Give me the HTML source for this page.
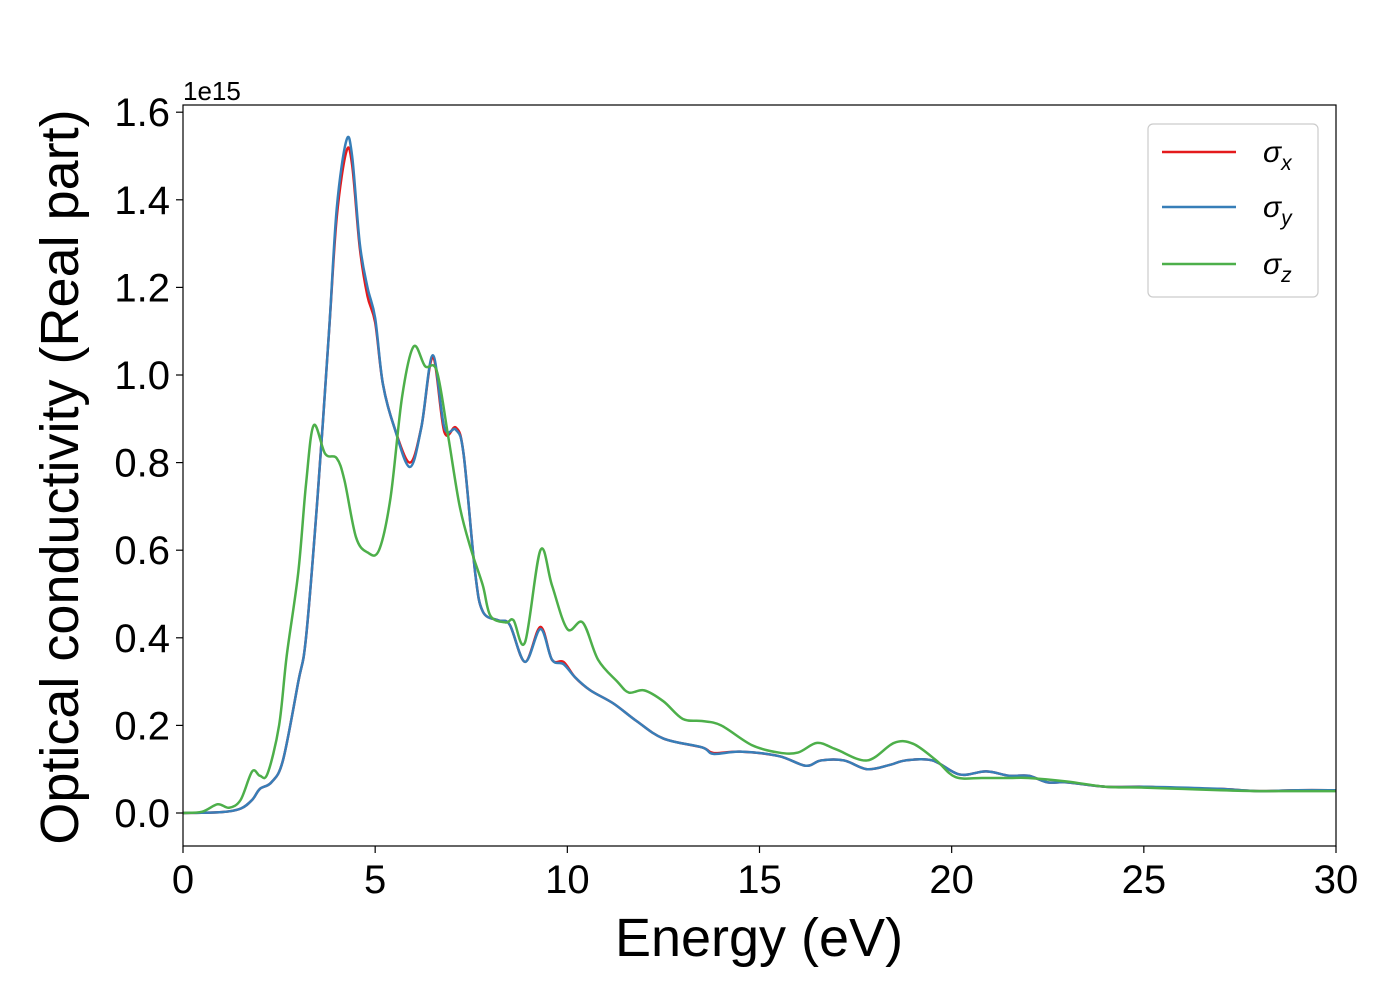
<!DOCTYPE html>
<html><head><meta charset="utf-8"><style>body{margin:0;background:#fff}svg{display:block;font-family:"Liberation Sans",sans-serif}</style></head>
<body>
<svg id="chart" xmlns="http://www.w3.org/2000/svg" width="1400" height="1000">
<g id="plot"></g>
<text x="183" y="100" font-size="26">1e15</text>
<text x="759" y="956" font-size="54" text-anchor="middle">Energy (eV)</text>
<text transform="translate(78,477) rotate(-90)" font-size="54" text-anchor="middle">Optical conductivity (Real part)</text>
<g>
<rect x="1148" y="124" width="170" height="173" rx="5" fill="#fff" stroke="#ccc" stroke-width="1.2"/>
<line x1="1162" x2="1236" y1="152" y2="152" stroke="#e41a1c" stroke-width="2.5"/>
<line x1="1162" x2="1236" y1="207" y2="207" stroke="#377eb8" stroke-width="2.5"/>
<line x1="1162" x2="1236" y1="264" y2="264" stroke="#4daf4a" stroke-width="2.5"/>
<text x="1263" y="162" font-size="30" font-style="italic">σ<tspan font-size="21" dy="8">x</tspan></text>
<text x="1263" y="217" font-size="30" font-style="italic">σ<tspan font-size="21" dy="8">y</tspan></text>
<text x="1263" y="274" font-size="30" font-style="italic">σ<tspan font-size="21" dy="8">z</tspan></text>
</g>
</svg>
<script>
const energyBlue=[0,1,1.5,1.8,2.0,2.3,2.6,3.0,3.2,3.5,3.8,4.0,4.25,4.4,4.6,4.8,5.0,5.2,5.5,5.9,6.2,6.5,6.8,7.1,7.3,7.6,7.8,8.2,8.5,8.9,9.3,9.6,9.9,10.2,10.6,11.2,11.8,12.5,13.5,13.8,14.5,15.5,16.2,16.6,17.2,17.8,18.4,18.8,19.5,20.2,20.9,21.5,22,22.5,23,24,25,26,27,28,29,30];
const sigmaY=[0,0.002,0.01,0.03,0.055,0.07,0.12,0.3,0.4,0.72,1.1,1.38,1.535,1.5,1.3,1.2,1.13,0.98,0.88,0.79,0.88,1.045,0.88,0.875,0.82,0.55,0.46,0.44,0.43,0.345,0.42,0.35,0.34,0.31,0.28,0.25,0.21,0.17,0.15,0.135,0.14,0.13,0.108,0.12,0.12,0.10,0.11,0.12,0.12,0.088,0.095,0.085,0.085,0.07,0.07,0.06,0.06,0.058,0.055,0.05,0.052,0.052];
const sigmaX=[0,0.002,0.01,0.03,0.055,0.07,0.12,0.3,0.4,0.72,1.1,1.36,1.51,1.48,1.29,1.18,1.12,0.98,0.88,0.80,0.88,1.04,0.87,0.88,0.82,0.55,0.46,0.44,0.43,0.345,0.425,0.35,0.345,0.31,0.28,0.25,0.21,0.17,0.15,0.137,0.14,0.13,0.108,0.12,0.12,0.10,0.11,0.12,0.12,0.088,0.095,0.085,0.085,0.07,0.07,0.06,0.06,0.056,0.055,0.05,0.052,0.052];
const energyGreen=[0,0.5,0.9,1.2,1.5,1.8,2.0,2.2,2.5,2.7,3.0,3.2,3.4,3.7,4.0,4.2,4.5,4.8,5.1,5.4,5.7,6.0,6.3,6.6,6.9,7.2,7.5,7.8,8.0,8.4,8.6,8.9,9.3,9.6,10.0,10.4,10.8,11.3,11.6,12.0,12.5,13.0,13.5,14.0,14.8,15.5,16.0,16.5,17.0,17.8,18.5,19.0,19.6,20.1,20.8,21.5,22,23,24,25,26,27,28,29,30];
const sigmaZ=[0,0.003,0.02,0.012,0.03,0.095,0.085,0.09,0.2,0.36,0.55,0.75,0.885,0.82,0.81,0.76,0.63,0.595,0.6,0.72,0.95,1.065,1.02,1.01,0.86,0.7,0.6,0.52,0.45,0.435,0.44,0.39,0.6,0.52,0.42,0.435,0.35,0.3,0.275,0.28,0.255,0.215,0.21,0.2,0.155,0.138,0.138,0.16,0.145,0.12,0.16,0.158,0.12,0.082,0.08,0.08,0.08,0.072,0.06,0.058,0.055,0.052,0.05,0.05,0.05];
const xTicks=[0,5,10,15,20,25,30];
const yTicks=[0,0.2,0.4,0.6,0.8,1.0,1.2,1.4,1.6];
const NS="http://www.w3.org/2000/svg";
const X=v=>183+v*(1336-183)/30;
const Y=v=>813-v*438;
const g=document.getElementById('plot');
function mk(t,a,p){const e=document.createElementNS(NS,t);for(const k in a)e.setAttribute(k,a[k]);(p||g).appendChild(e);return e;}
function path(xs,ys){const p=xs.map((x,i)=>[X(x),Y(ys[i])]);let d=`M${p[0][0]},${p[0][1]}`;
for(let i=0;i<p.length-1;i++){const p0=p[i-1]||p[i],p1=p[i],p2=p[i+1],p3=p[i+2]||p2;
d+=`C${p1[0]+(p2[0]-p0[0])/6},${p1[1]+(p2[1]-p0[1])/6} ${p2[0]-(p3[0]-p1[0])/6},${p2[1]-(p3[1]-p1[1])/6} ${p2[0]},${p2[1]}`;}return d;}
const cp=mk('clipPath',{id:'cp'});mk('rect',{x:183,y:105,width:1153,height:741},cp);
const series=[[energyBlue,sigmaX,'#e41a1c','series-sigma-x'],[energyBlue,sigmaY,'#377eb8','series-sigma-y'],[energyGreen,sigmaZ,'#4daf4a','series-sigma-z']];
series.forEach(s=>{const e=mk('path',{d:path(s[0],s[1]),fill:'none',stroke:s[2],'stroke-width':2.5,'clip-path':'url(#cp)'});

});
const fr=mk('rect',{x:183,y:105,width:1153,height:741,fill:'none',stroke:'#000','stroke-width':1.2});


xTicks.forEach(t=>{mk('line',{x1:X(t),x2:X(t),y1:846,y2:853,stroke:'#000','stroke-width':1.2});
const tx=mk('text',{x:X(t),y:893,'font-size':40,'text-anchor':'middle'});tx.textContent=t;

});
yTicks.forEach(t=>{mk('line',{x1:176,x2:183,y1:Y(t),y2:Y(t),stroke:'#000','stroke-width':1.2});
const tx=mk('text',{x:170,y:Y(t)+14,'font-size':40,'text-anchor':'end'});tx.textContent=t.toFixed(1);

});
</script>
</body></html>
